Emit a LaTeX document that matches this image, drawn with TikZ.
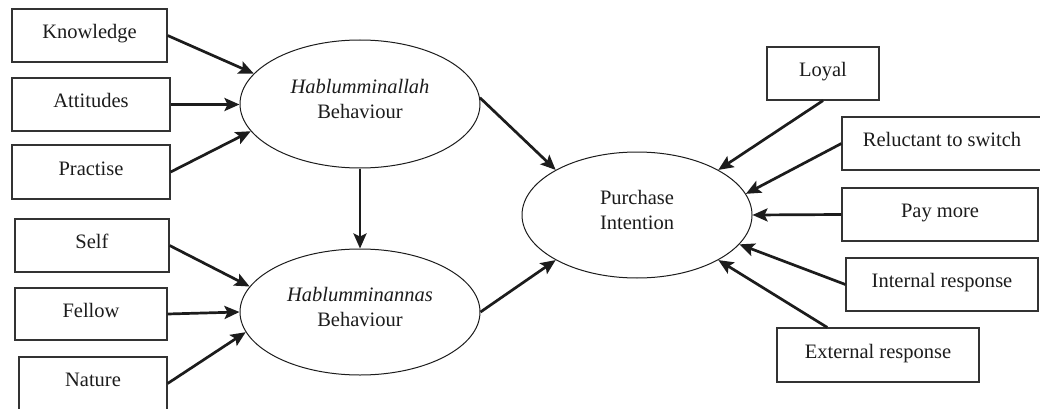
\documentclass[tikz,border=0pt]{standalone}
\usepackage{fontspec}
\setmainfont{Liberation Serif}
\usetikzlibrary{arrows.meta,calc,shapes.geometric}
\definecolor{ink}{HTML}{1C1C1C}
\definecolor{boxline}{HTML}{333333}
\newcommand{\lowpad}{\rule[-10pt]{0pt}{10pt}}
\tikzset{
  stepbox/.style={draw=boxline, line width=1.2pt, rectangle, inner sep=0pt,
    text=ink, text height=12pt, text depth=6pt,
    font=\fontsize{20.5}{25}\selectfont},
  oval/.style={draw=ink, line width=1pt, ellipse, inner sep=0pt, align=center,
    text=ink, font=\fontsize{20.5}{25.5}\selectfont},
  arr/.style={draw=ink, line width=2.7pt, -{Stealth[length=15pt,width=13pt,inset=3pt]}}
}
\begin{document}
\begin{tikzpicture}[x=1pt,y=-1pt]
\useasboundingbox (0,0) rectangle (1040,409);
\fill[white] (0,0) rectangle (1040,409);
\begin{scope}
\clip (0,0) rectangle (1040,409);
% left boxes
\node[stepbox, minimum width=155pt, minimum height=53pt] (know) at (89.5,35.5) {Knowledge};
\node[stepbox, minimum width=158pt, minimum height=53pt] (att) at (91,104.5) {Attitudes};
\node[stepbox, minimum width=158pt, minimum height=54pt] (prac) at (91,172) {Practise};
\node[stepbox, minimum width=154pt, minimum height=53pt] (self) at (92,245.5) {Self};
\node[stepbox, minimum width=152pt, minimum height=52pt] (fel) at (91,314) {Fellow};
\node[stepbox, minimum width=148pt, minimum height=53pt] (nat) at (93,383.5) {Nature};
% ellipses
\node[oval, minimum width=240pt, minimum height=128pt] (hal) at (360,104) {\textit{Hablumminallah}\\Behaviour\lowpad};
\node[oval, minimum width=240pt, minimum height=126pt] (han) at (360,312) {\textit{Hablumminannas}\\Behaviour\lowpad};
\node[oval, minimum width=230pt, minimum height=126pt] (pi) at (637,215) {Purchase\\Intention\lowpad};
% right boxes
\node[stepbox, minimum width=112pt, minimum height=53pt] (loyal) at (823,73.5) {Loyal};
\node[stepbox, minimum width=200pt, minimum height=53pt] (rel) at (942,143.5) {Reluctant to switch};
\node[stepbox, minimum width=196pt, minimum height=53pt] (pay) at (940,214.5) {Pay more};
\node[stepbox, minimum width=192pt, minimum height=53pt] (int) at (942,284.5) {Internal response};
\node[stepbox, minimum width=202pt, minimum height=54pt] (ext) at (878,355) {External response};
\coordinate (extstart) at ($(ext.north west)!0.25!(ext.north east)$);
% arrows left
\draw[arr] (know.east) -- (hal.164.8);
\draw[arr] (att.east) -- (att.east -| hal.west);
\draw[arr] (prac.east) -- (hal.194.2);
\draw[arr] (self.east) -- (han.167);
\draw[arr] (fel.east) -- (han.west);
\draw[arr] (nat.east) -- (han.190.7);
\draw[arr] (hal.south) -- (han.north);
\draw[arr] (hal.3) -- (pi.151.8);
\draw[arr] (han.east) -- (pi.209.2);
% arrows right
\draw[arr] (loyal.south) -- (pi.29);
\draw[arr] (rel.west) -- (pi.11.7);
\draw[arr] (pay.west) -- (pi.east);
\draw[arr] (int.west) -- (pi.344.2);
\draw[arr] (extstart) -- (pi.331);
\end{scope}
\end{tikzpicture}
\end{document}
